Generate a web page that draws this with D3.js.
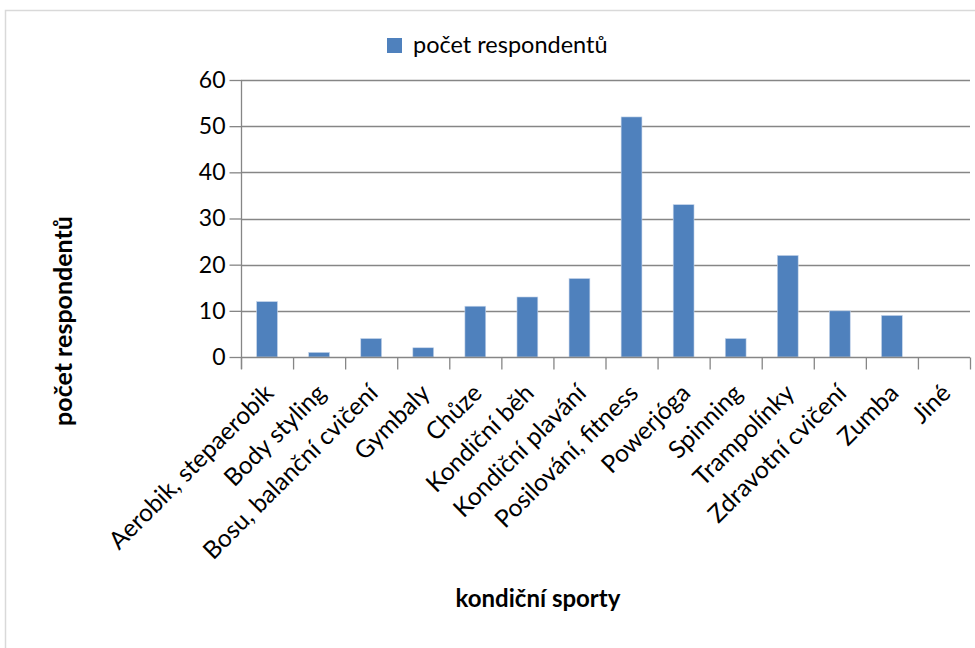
<!DOCTYPE html>
<html><head><meta charset="utf-8">
<script src="https://cdn.jsdelivr.net/npm/d3@7"></script>
<style>body{margin:0;background:#fff}svg{display:block;font-family:Lato,"Open Sans",sans-serif}</style>
</head><body><svg id="c" width="975" height="648"></svg>
<script>
const categories = ["Aerobik, stepaerobik","Body styling","Bosu, balanční cvičení","Gymbaly","Chůze","Kondiční běh","Kondiční plavání","Posilování, fitness","Powerjóga","Spinning","Trampolínky","Zdravotní cvičení","Zumba","Jiné"];
const values = [12,1,4,2,11,13,17,52,33,4,22,10,9,0];
const yTicks = [0,10,20,30,40,50,60];
const seriesName = "počet respondentů";
const xTitle = "kondiční sporty";
const yTitle = "počet respondentů";

const svg = d3.select("#c");
const pL = 241, pR = 970, pT = 80, pB = 357;
svg.append("rect").attr("x",5.5).attr("y",10.5).attr("width",1100).attr("height",800)
  .attr("fill","none").attr("stroke","#d9d9d9").attr("stroke-width",1.5);

const x = d3.scaleBand().domain(categories).range([pL,pR]).paddingInner(0.6).paddingOuter(0.3);
const xt = d3.scaleBand().domain(categories).range([pL,pR]);
const y = d3.scaleLinear().domain([0,60]).range([pB,pT]);

// gridlines
svg.append("g").selectAll("line").data(yTicks.filter(d=>d>0)).join("line")
  .attr("x1",pL).attr("x2",pR).attr("y1",d=>Math.round(y(d))+0.5).attr("y2",d=>Math.round(y(d))+0.5)
  .attr("stroke","#868686").attr("stroke-width",1.3);

// bars
svg.append("g").selectAll("rect").data(values).join("rect")
  .attr("x",(d,i)=>x(categories[i])).attr("width",x.bandwidth())
  .attr("y",d=>y(d)).attr("height",d=>y(0)-y(d))
  .attr("fill","#4f81bd").attr("stroke","#c6d5ea").attr("stroke-width",0.6);

// y axis
const ya = d3.axisLeft(y).tickValues(yTicks).tickSize(12).tickPadding(4);
const gy = svg.append("g").attr("transform",`translate(${pL+0.5},0)`).call(ya);
gy.selectAll("path,line").attr("stroke","#868686").attr("stroke-width",1.3);
gy.select(".domain").attr("d",`M0,${pT}V${pB+12}`);
gy.selectAll("text").attr("font-family","Lato").attr("font-size",23).attr("fill","#000");

// x axis
const gx = svg.append("g").attr("transform",`translate(0,${pB+0.5})`);
gx.append("line").attr("x1",pL).attr("x2",pR).attr("stroke","#868686").attr("stroke-width",1.3);
gx.selectAll("line.t").data(categories.concat(["__end"])).join("line").attr("class","t")
  .attr("x1",(d,i)=>pL+i*xt.bandwidth()+0.5).attr("x2",(d,i)=>pL+i*xt.bandwidth()+0.5)
  .attr("y1",0).attr("y2",12).attr("stroke","#868686").attr("stroke-width",1.3);
gx.selectAll("text").data(categories).join("text")
  .attr("transform",d=>`translate(${xt(d)+xt.bandwidth()/2-4},${25}) rotate(-45)`)
  .attr("text-anchor","end").attr("dy","0.7em")
  .attr("font-size",24.5).attr("fill","#000").text(d=>d);

// legend
svg.append("rect").attr("x",387).attr("y",38).attr("width",15).attr("height",15).attr("fill","#4f81bd");
svg.append("text").attr("x",413).attr("y",53).attr("font-size",23.5).attr("fill","#000").text(seriesName);

// titles
svg.append("text").attr("x",538).attr("y",607).attr("text-anchor","middle")
  .attr("font-size",24).attr("font-weight","bold").attr("fill","#000").text(xTitle);
svg.append("text").attr("transform","translate(72,321) rotate(-90)").attr("text-anchor","middle")
  .attr("font-size",25).attr("font-weight","bold").attr("fill","#000").text(yTitle);
</script></body></html>
